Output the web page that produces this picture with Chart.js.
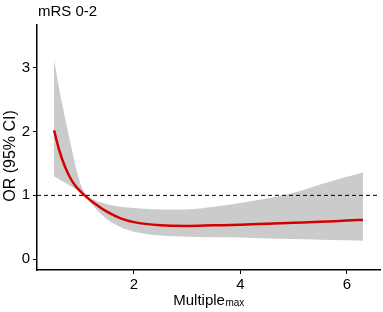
<!DOCTYPE html>
<html>
<head>
<meta charset="utf-8">
<script src="https://cdn.jsdelivr.net/npm/chart.js@4.4.1/dist/chart.umd.min.js"></script>
<style>
  html, body { margin: 0; padding: 0; background: #fff; }
  #wrap { width: 383px; height: 312px; position: relative; }
</style>
</head>
<body>
<div id="wrap"><canvas id="chart"></canvas></div>
<script>
// spline estimate with 95% CI
const xs    = [0.5, 0.6, 0.7, 0.8, 0.9, 1.0, 1.1, 1.25, 1.5, 1.75, 2, 2.5, 3, 3.5, 4, 4.5, 5, 5.5, 6, 6.3];
const orVal = [2.02, 1.70, 1.46, 1.28, 1.15, 1.06, 0.98, 0.88, 0.74, 0.64, 0.58, 0.53, 0.52, 0.53, 0.54, 0.555, 0.57, 0.585, 0.605, 0.615];
const upper = [3.13, 2.65, 2.24, 1.85, 1.47, 1.17, 1.01, 0.93, 0.86, 0.82, 0.80, 0.78, 0.78, 0.82, 0.88, 0.95, 1.04, 1.17, 1.29, 1.36];
const lower = [1.30, 1.25, 1.20, 1.15, 1.10, 1.05, 0.97, 0.82, 0.62, 0.50, 0.43, 0.37, 0.35, 0.345, 0.34, 0.325, 0.315, 0.305, 0.295, 0.29];
const xTicks = [2, 4, 6];
const yTicks = [0, 1, 2, 3];
const xRange = [0.18, 6.62];
const yRange = [-0.17, 3.67];
const refLine = 1;

const FONT = "'Liberation Sans', Arial, sans-serif";

const pts = arr => xs.map((x, i) => ({ x: x, y: arr[i] }));

// title and axis titles drawn by hand so the subscript works
const textPlugin = {
    id: 'texts',
    afterDraw(chart) {
        const ctx = chart.ctx;
        const area = chart.chartArea;
        ctx.save();
        ctx.fillStyle = '#000';
        ctx.font = '15px ' + FONT;
        ctx.textBaseline = 'alphabetic';
        ctx.textAlign = 'left';
        ctx.fillText('mRS 0-2', 38, 16);

        // x title with subscript
        const main = 'Multiple';
        const sub = 'max';
        ctx.font = '15px ' + FONT;
        const w1 = ctx.measureText(main).width;
        ctx.font = '10px ' + FONT;
        const w2 = ctx.measureText(sub).width;
        const cx = (area.left + area.right) / 2;
        const x0 = cx - (w1 + w2) / 2;
        ctx.font = '15px ' + FONT;
        ctx.fillText(main, x0, 305);
        ctx.font = '10px ' + FONT;
        ctx.fillText(sub, x0 + w1 + 0.5, 306);

        // y title
        ctx.translate(15, 156);
        ctx.rotate(-Math.PI / 2);
        ctx.textAlign = 'center';
        ctx.font = '16px ' + FONT;
        ctx.fillText('OR (95% CI)', 0, 0);
        ctx.restore();
    }
};

new Chart(document.getElementById('chart').getContext('2d'), {
    type: 'line',
    data: {
        datasets: [{
            label: 'upper',
            data: pts(upper),
            order: 3,
            borderWidth: 0,
            borderColor: 'rgba(0,0,0,0)',
            backgroundColor: '#cbcbcb',
            pointRadius: 0,
            cubicInterpolationMode: 'monotone',
            fill: '+1'
        }, {
            label: 'lower',
            data: pts(lower),
            order: 2,
            borderWidth: 0,
            borderColor: 'rgba(0,0,0,0)',
            pointRadius: 0,
            cubicInterpolationMode: 'monotone',
            fill: false
        }, {
            label: 'ref',
            data: [{ x: xRange[0], y: refLine }, { x: xRange[1], y: refLine }],
            order: 1,
            borderColor: '#000',
            borderWidth: 1,
            borderDash: [4, 3],
            pointRadius: 0,
            fill: false
        }, {
            label: 'OR',
            data: pts(orVal),
            order: 0,
            borderColor: '#d40000',
            borderWidth: 2.5,
            pointRadius: 0,
            cubicInterpolationMode: 'monotone',
            fill: false
        }]
    },
    options: {
        responsive: true,
        maintainAspectRatio: false,
        animation: false,
        layout: { padding: { top: 25, right: 3, left: 0, bottom: 0 } },
        plugins: {
            legend: { display: false },
            tooltip: { enabled: false },
            title: { display: false },
            filler: { drawTime: 'beforeDatasetsDraw' }
        },
        scales: {
            x: {
                type: 'linear',
                min: xRange[0],
                max: xRange[1],
                afterBuildTicks: axis => { axis.ticks = xTicks.map(v => ({ value: v })); },
                afterFit: axis => { axis.height = 42; },
                grid: { display: true, drawOnChartArea: false, drawTicks: true, tickLength: 4, color: '#000' },
                border: { display: true, color: '#000', width: 1.5 },
                ticks: { color: '#000', font: { family: FONT, size: 15 }, padding: 2, maxRotation: 0 }
            },
            y: {
                type: 'linear',
                min: yRange[0],
                max: yRange[1],
                afterBuildTicks: axis => { axis.ticks = yTicks.map(v => ({ value: v })); },
                afterFit: axis => { axis.width = 37; },
                grid: { display: true, drawOnChartArea: false, drawTicks: true, tickLength: 4, color: '#000' },
                border: { display: true, color: '#000', width: 1.5 },
                ticks: { color: '#000', font: { family: FONT, size: 15 }, padding: 3 }
            }
        }
    },
    plugins: [textPlugin]
});
</script>
</body>
</html>
